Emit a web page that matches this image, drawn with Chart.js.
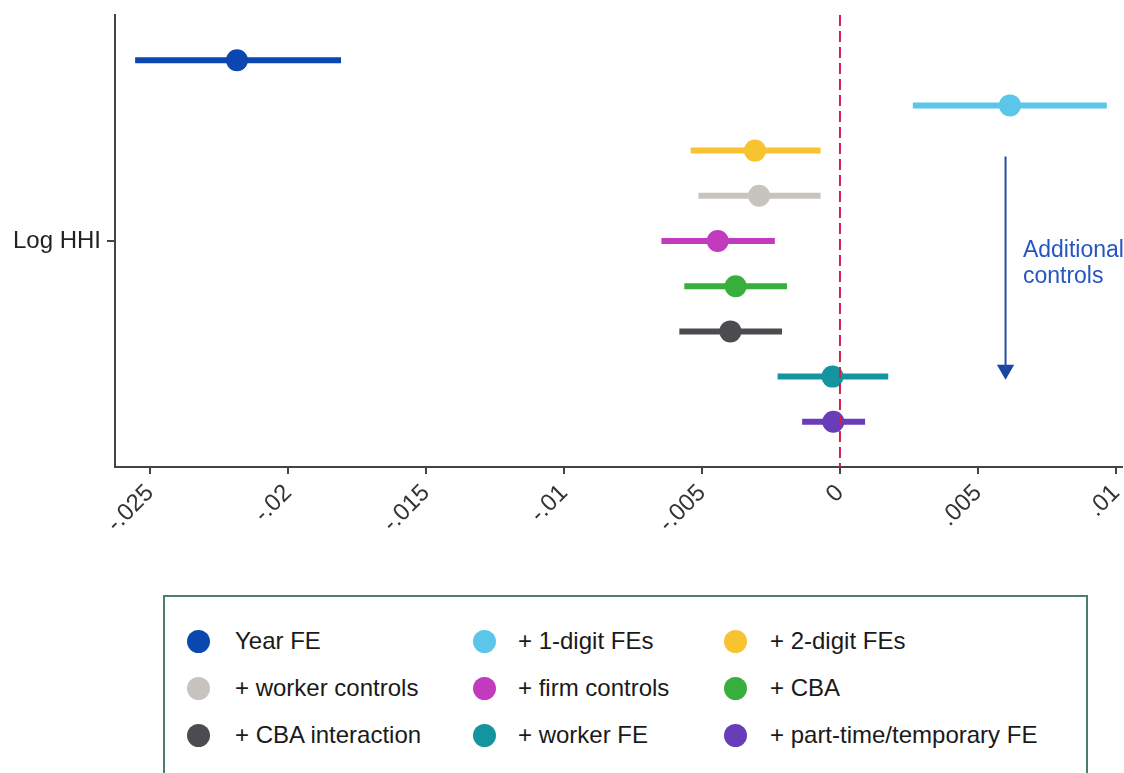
<!DOCTYPE html>
<html>
<head>
<meta charset="utf-8">
<script src="https://cdn.jsdelivr.net/npm/chart.js@4.4.1/dist/chart.umd.min.js"></script>
<style>
body { margin: 0; background: #fff; width: 1124px; height: 773px; overflow: hidden; position: relative; font-family: 'Liberation Sans', Arial, sans-serif; }
#wrap { position: absolute; left: 0; top: 0; width: 1124px; height: 560px; }
#legend { position: absolute; left: 163px; top: 595px; width: 921px; height: 200px; border: 2px solid #4d7b6c; }
.dot { position: absolute; width: 23px; height: 23px; border-radius: 50%; }
.lbl { position: absolute; font-size: 24px; line-height: 30px; color: #1a1a1a; white-space: nowrap; }
</style>
</head>
<body>
<div id="wrap"><canvas id="coef-chart"></canvas></div>
<div id="legend"></div>
<script>
// models, top row to bottom row
const models = ['Year FE', '+ 1-digit FEs', '+ 2-digit FEs', '+ worker controls', '+ firm controls',
    '+ CBA', '+ CBA interaction', '+ worker FE', '+ part-time/temporary FE'];
const estimates = [-0.02185, 0.00616, -0.00308, -0.00293, -0.00443, -0.00378, -0.00397, -0.00027, -0.00024];
const ciLow = [-0.02554, 0.00264, -0.00541, -0.00513, -0.00647, -0.00564, -0.00582, -0.00226, -0.00137];
const ciHigh = [-0.01808, 0.00967, -0.00070, -0.00070, -0.00236, -0.00192, -0.00210, 0.00175, 0.00091];
const colors = ['#0a47b0', '#5bc6ea', '#f7c331', '#c7c4bf', '#c23bbf', '#36b03a', '#4b4b50', '#14949f', '#693cb8'];

const tickValues = [-0.025, -0.02, -0.015, -0.01, -0.005, 0, 0.005, 0.01];
const tickLabels = ['-.025', '-.02', '-.015', '-.01', '-.005', '0', '.005', '.01'];
const rowLabel = 'Log HHI';
const arrowText = ['Additional', 'controls'];

const ctx = document.getElementById('coef-chart');

const datasets = [];

// reference line at zero, drawn on top
datasets.push({
    type: 'line',
    data: [{x: 0, y: 0}, {x: 0, y: 10}],
    borderColor: '#d41f4b',
    borderWidth: 2,
    borderDash: [11, 5],
    pointRadius: 0,
    order: 0
});

models.forEach((m, i) => {
    datasets.push({
        type: 'scatter',
        label: m,
        data: [{x: estimates[i], y: i + 1}],
        backgroundColor: colors[i],
        borderWidth: 0,
        pointRadius: 11,
        order: 1
    });
    datasets.push({
        type: 'line',
        data: [{x: ciLow[i], y: i + 1}, {x: ciHigh[i], y: i + 1}],
        borderColor: colors[i],
        borderWidth: 6,
        pointRadius: 0,
        order: 2
    });
});

// "additional controls" arrow
datasets.push({
    type: 'line',
    data: [{x: 0.006, y: 3.13}, {x: 0.006, y: 7.85}],
    borderColor: '#234e9f',
    borderWidth: 2,
    pointRadius: 0,
    order: 1
});
datasets.push({
    type: 'scatter',
    data: [{x: 0.006, y: 7.85}],
    pointStyle: 'triangle',
    rotation: 180,
    pointRadius: 10,
    backgroundColor: '#1a45a0',
    borderWidth: 0,
    order: 1
});

const arrowLabel = {
    id: 'arrowLabel',
    afterDatasetsDraw(chart) {
        const c = chart.ctx;
        const x = chart.scales.x;
        const y = chart.scales.y;
        c.save();
        c.fillStyle = '#2456c2';
        c.font = '23px "Liberation Sans", Arial, sans-serif';
        c.textBaseline = 'alphabetic';
        arrowText.forEach((t, i) => {
            c.fillText(t, x.getPixelForValue(0.00663), y.getPixelForValue(5.35 + i * 0.58));
        });
        c.restore();
    }
};

new Chart(ctx, {
    type: 'scatter',
    data: { datasets: datasets },
    plugins: [arrowLabel],
    options: {
        responsive: true,
        maintainAspectRatio: false,
        animation: false,
        layout: { autoPadding: false, padding: { top: 15, right: 2, left: 0, bottom: 0 } },
        plugins: {
            legend: { display: false },
            tooltip: { enabled: false }
        },
        scales: {
            x: {
                type: 'linear',
                min: -0.02627,
                max: 0.01022,
                afterBuildTicks: s => { s.ticks = tickValues.map(v => ({value: v})); },
                afterFit: s => { s.height = 93; s.paddingLeft = 0; s.paddingRight = 0; },
                ticks: {
                    autoSkip: false,
                    minRotation: 45,
                    maxRotation: 45,
                    padding: 5,
                    color: '#333',
                    font: { family: 'Liberation Sans', size: 24 },
                    callback: (v, i) => tickLabels[i]
                },
                grid: { display: true, drawOnChartArea: false, drawTicks: true, tickLength: 7, color: '#444', lineWidth: 2 },
                border: { display: true, color: '#444', width: 2 }
            },
            y: {
                type: 'linear',
                reverse: true,
                min: 0,
                max: 10,
                afterBuildTicks: s => { s.ticks = [{value: 5}]; },
                afterFit: s => { s.width = 115; s.paddingTop = 0; s.paddingBottom = 0; },
                ticks: {
                    padding: 6,
                    color: '#222',
                    font: { family: 'Liberation Sans', size: 24 },
                    callback: () => rowLabel
                },
                grid: { display: true, drawOnChartArea: false, drawTicks: true, tickLength: 8, color: '#444', lineWidth: 2 },
                border: { display: true, color: '#444', width: 2 }
            }
        }
    }
});

// legend box, 3 columns
const legend = document.getElementById('legend');
const dotX = [33, 319, 570];
const textX = [70, 353, 605];
const rowY = [44, 91, 138];
models.forEach((m, i) => {
    const col = i % 3;
    const row = Math.floor(i / 3);
    const dot = document.createElement('div');
    dot.className = 'dot';
    dot.style.background = colors[i];
    dot.style.left = (dotX[col] - 11.5) + 'px';
    dot.style.top = (rowY[row] - 11.5) + 'px';
    legend.appendChild(dot);
    const lbl = document.createElement('div');
    lbl.className = 'lbl';
    lbl.textContent = m;
    lbl.style.left = textX[col] + 'px';
    lbl.style.top = (rowY[row] - 15) + 'px';
    legend.appendChild(lbl);
});
</script>
</body>
</html>
